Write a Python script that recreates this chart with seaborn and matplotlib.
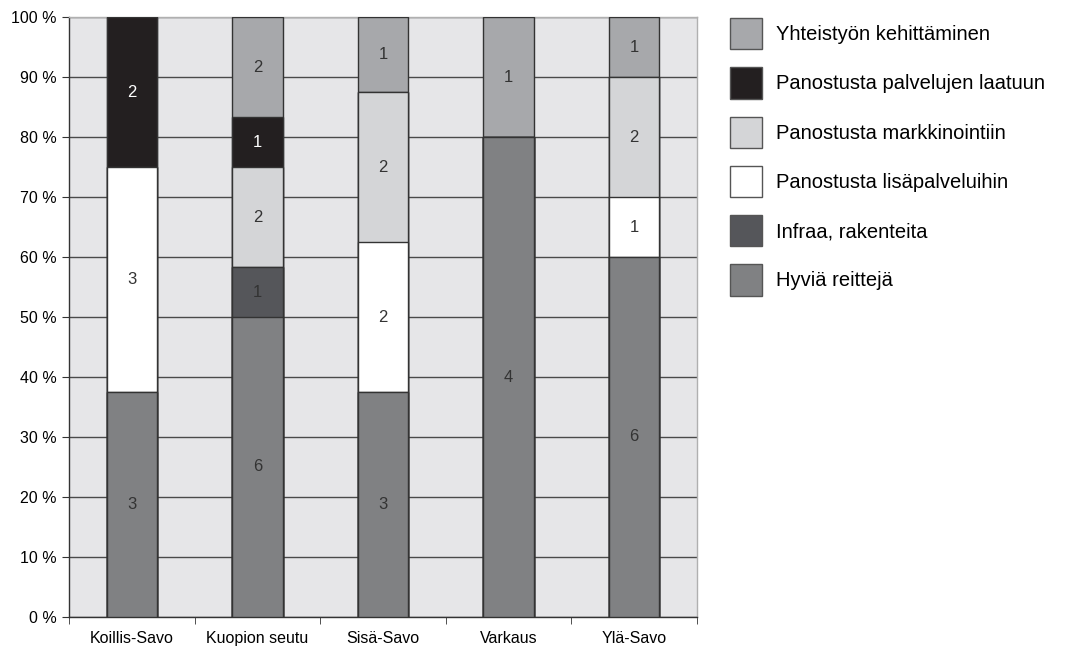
import numpy as np
import pandas as pd
import matplotlib
matplotlib.use("Agg")
import matplotlib.pyplot as plt
from matplotlib.patches import Patch
from matplotlib.ticker import FuncFormatter
import seaborn as sns

# === data ===
REGIONS = ["Koillis-Savo", "Kuopion seutu", "Sisä-Savo", "Varkaus", "Ylä-Savo"]
# stacking order, bottom -> top
SERIES = [
    "Hyviä reittejä",
    "Infraa, rakenteita",
    "Panostusta lisäpalveluihin",
    "Panostusta markkinointiin",
    "Panostusta palvelujen laatuun",
    "Yhteistyön kehittäminen",
]
hyvia_reitteja = [3, 6, 3, 4, 6]
infraa = [0, 1, 0, 0, 0]
lisapalvelut = [3, 0, 2, 0, 1]
markkinointi = [0, 2, 2, 0, 2]
laatu = [2, 1, 0, 0, 0]
yhteistyo = [0, 2, 1, 1, 1]

COLORS = {
    "Hyviä reittejä": "#808183",
    "Infraa, rakenteita": "#55565a",
    "Panostusta lisäpalveluihin": "#ffffff",
    "Panostusta markkinointiin": "#d4d5d7",
    "Panostusta palvelujen laatuun": "#231f20",
    "Yhteistyön kehittäminen": "#a7a8ab",
}
LEGEND_ORDER = SERIES[::-1]

counts = pd.DataFrame(
    [hyvia_reitteja, infraa, lisapalvelut, markkinointi, laatu, yhteistyo],
    index=SERIES, columns=REGIONS,
)
share = counts / counts.sum(axis=0) * 100
cum = share.cumsum(axis=0)

plt.rcParams["font.family"] = ["Liberation Sans", "DejaVu Sans"]

fig = plt.figure(figsize=(10.73, 6.5), dpi=100)
ax = fig.add_axes([0.0643, 0.0508, 0.5853, 0.923])
ax.set_facecolor("#e6e6e8")

# draw cumulative bars from top layer down so lower layers cover them
for s in SERIES[::-1]:
    df = pd.DataFrame({"region": REGIONS, "value": cum.loc[s].values})
    sns.barplot(data=df, x="region", y="value", order=REGIONS, color=COLORS[s],
                saturation=1, width=0.4, edgecolor="#333333", linewidth=1.0,
                errorbar=None, ax=ax, zorder=3)

# segment labels
for j, r in enumerate(REGIONS):
    bottom = 0
    for s in SERIES:
        n = counts.loc[s, r]
        h = share.loc[s, r]
        if n > 0:
            col = "white" if s == "Panostusta palvelujen laatuun" else "#333333"
            ax.text(j, bottom + h / 2, str(n), ha="center", va="center",
                    fontsize=12, color=col, zorder=5)
        bottom += h

ax.set_xlim(-0.5, 4.5)
ax.set_ylim(0, 100)
ax.set_yticks(np.arange(0, 101, 10))
ax.yaxis.set_major_formatter(FuncFormatter(lambda y, _: f"{y:.0f} %"))
ax.grid(axis="y", color="#4a4a4a", linewidth=1.0, zorder=1)
ax.set_axisbelow(True)
ax.set_xticks(np.arange(-0.5, 5, 1), minor=True)
ax.tick_params(axis="x", which="major", length=0, pad=10, labelsize=11.5)
ax.tick_params(axis="x", which="minor", length=5, color="#333333")
ax.tick_params(axis="y", length=5, color="#333333", labelsize=11.5, pad=4)
ax.set_xlabel("")
ax.set_ylabel("")
for side in ["left", "bottom"]:
    ax.spines[side].set_color("#333333")
    ax.spines[side].set_linewidth(1.0)
for side in ["top", "right"]:
    ax.spines[side].set_color("#b0b0b0")
    ax.spines[side].set_linewidth(1.0)

handles = [Patch(facecolor=COLORS[s], edgecolor="#555555", linewidth=1.0) for s in LEGEND_ORDER]
fig.legend(handles, LEGEND_ORDER, loc="upper left", bbox_to_anchor=(0.680, 0.972),
           frameon=False, fontsize=14.5, handlelength=1.6, handleheight=2.0,
           labelspacing=0.9, handletextpad=0.7, borderpad=0, borderaxespad=0)

fig.savefig("out.png", dpi=100)
